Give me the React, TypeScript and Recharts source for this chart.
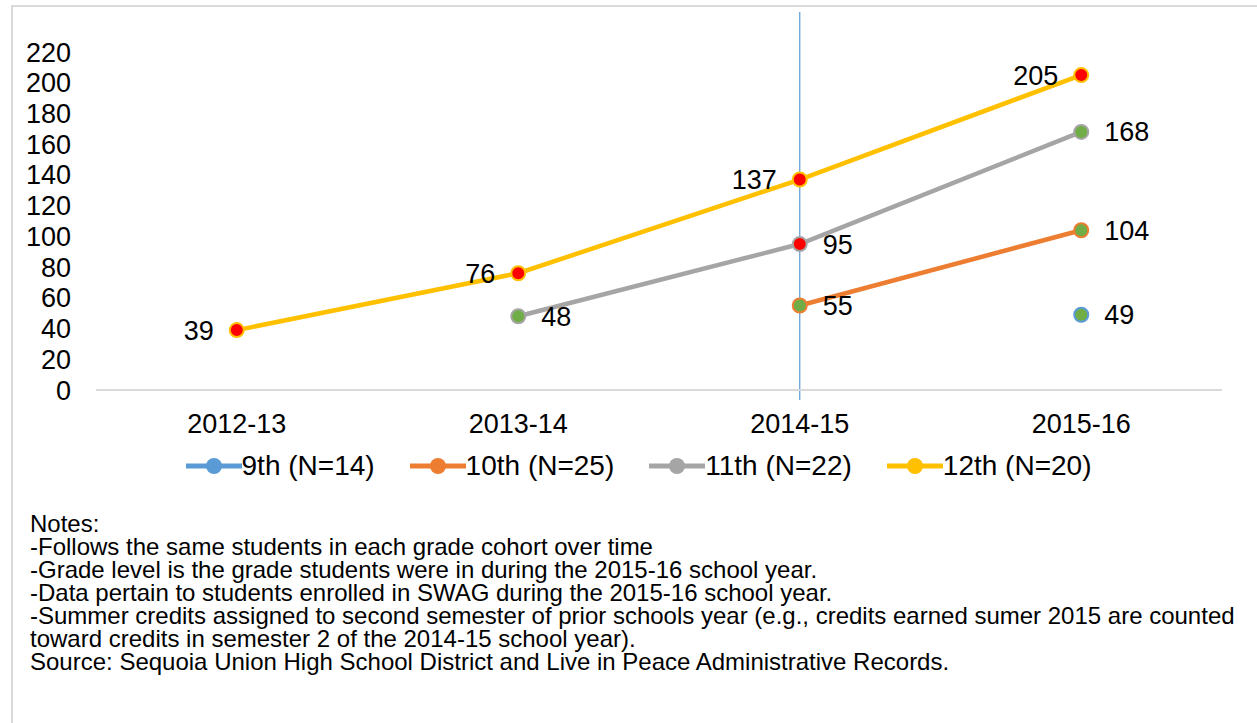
import { FC } from 'react';
import {
  LineChart,
  Line,
  XAxis,
  YAxis,
  LabelList,
  ReferenceLine,
} from 'recharts';

const YEARS = ['2012-13', '2013-14', '2014-15', '2015-16'];
const GRADE_9 = [null, null, null, 49];
const GRADE_10 = [null, null, 55, 104];
const GRADE_11 = [null, 48, 95, 168];
const GRADE_12 = [39, 76, 137, 205];
const Y_TICKS = [0, 20, 40, 60, 80, 100, 120, 140, 160, 180, 200, 220];

const NOTES = [
  'Notes:',
  '-Follows the same students in each grade cohort over time',
  '-Grade level is the grade students were in during the 2015-16 school year.',
  '-Data pertain to students enrolled in SWAG during the 2015-16 school year.',
  '-Summer credits assigned to second semester of prior schools year (e.g., credits earned sumer 2015 are counted',
  'toward credits in semester 2 of the 2014-15 school year).',
  'Source: Sequoia Union High School District and Live in Peace Administrative Records.',
];

const RED = '#FF0000';
const GREEN = '#70AD47';

const SERIES = [
  { key: 'g9', name: '9th (N=14)', color: '#5B9BD5', side: 'right', marker: [GREEN, GREEN, GREEN, GREEN] },
  { key: 'g10', name: '10th (N=25)', color: '#ED7D31', side: 'right', marker: [GREEN, GREEN, GREEN, GREEN] },
  { key: 'g11', name: '11th (N=22)', color: '#A5A5A5', side: 'right', marker: [GREEN, GREEN, RED, GREEN] },
  { key: 'g12', name: '12th (N=20)', color: '#FFC000', side: 'left', marker: [RED, RED, RED, RED] },
] as const;

const data = YEARS.map((year, i) => ({
  year,
  g9: GRADE_9[i],
  g10: GRADE_10[i],
  g11: GRADE_11[i],
  g12: GRADE_12[i],
}));

const FONT = '"Liberation Sans", Arial, sans-serif';

const makeDot = (stroke: string, fills: readonly string[]) => (props: any) => {
  const { cx, cy, index, value } = props;
  if (value == null || cx == null || cy == null) return <g key={`e-${index}`} />;
  return (
    <circle
      key={`d-${index}`}
      cx={cx}
      cy={cy}
      r={7}
      fill={fills[index]}
      stroke={stroke}
      strokeWidth={2}
    />
  );
};

const ChartLegend: FC = () => (
  <div
    style={{
      position: 'absolute',
      left: 0,
      top: 448,
      width: 1257,
      display: 'flex',
      justifyContent: 'center',
      gap: 35,
      fontFamily: FONT,
      fontSize: 28,
      lineHeight: '36px',
      color: '#000',
      paddingLeft: 20,
      boxSizing: 'border-box',
    }}
  >
    {SERIES.map((s) => (
      <div key={s.key} style={{ display: 'flex', alignItems: 'center' }}>
        <svg width={56} height={20}>
          <line x1={0} y1={10} x2={56} y2={10} stroke={s.color} strokeWidth={5} strokeLinecap="round" />
          <circle cx={28} cy={10} r={8} fill={s.color} />
        </svg>
        <span>{s.name}</span>
      </div>
    ))}
  </div>
);

export default function App() {
  return (
    <div style={{ position: 'absolute', left: 0, top: 0, width: 1257, height: 723, overflow: 'hidden', background: '#fff' }}>
      <div
        style={{
          position: 'absolute',
          left: 11,
          top: 5,
          width: 1300,
          height: 760,
          border: '2px solid #D9D9D9',
        }}
      />
      <div style={{ position: 'absolute', left: 0, top: 0 }}>
        <LineChart
          width={1257}
          height={450}
          data={data}
          margin={{ top: 52, right: 35, bottom: 0, left: 0 }}
        >
          <XAxis
            dataKey="year"
            height={60}
            padding={{ left: 140.75, right: 140.75 }}
            axisLine={{ stroke: '#D9D9D9', strokeWidth: 2 }}
            tickLine={false}
            tickSize={0}
            tickMargin={24}
            tick={{ fill: '#000', fontSize: 27, fontFamily: FONT }}
          />
          <YAxis
            width={96}
            domain={[0, 220]}
            ticks={Y_TICKS}
            interval={0}
            axisLine={false}
            tickLine={false}
            tickSize={0}
            tickMargin={25}
            tick={{ fill: '#000', fontSize: 27, fontFamily: FONT }}
          />
          <ReferenceLine
            segment={[
              { x: '2014-15', y: 246 },
              { x: '2014-15', y: -6.5 },
            ]}
            ifOverflow="visible"
            stroke="#5B9BD5"
            strokeWidth={1.2}
          />
          {SERIES.map((s) => (
            <Line
              key={s.key}
              dataKey={s.key}
              name={s.name}
              stroke={s.color}
              strokeWidth={4.5}
              dot={makeDot(s.color, s.marker)}
              activeDot={false}
              isAnimationActive={false}
            >
              <LabelList
                dataKey={s.key}
                position={s.side}
                offset={23}
                fill="#000"
                fontSize={27}
                fontFamily={FONT}
              />
            </Line>
          ))}
        </LineChart>
      </div>
      <ChartLegend />
      <div
        style={{
          position: 'absolute',
          left: 30,
          top: 512,
          fontFamily: FONT,
          fontSize: 24,
          lineHeight: '23px',
          color: '#000',
          whiteSpace: 'nowrap',
        }}
      >
        {NOTES.map((n) => (
          <div key={n}>{n}</div>
        ))}
      </div>
    </div>
  );
}
